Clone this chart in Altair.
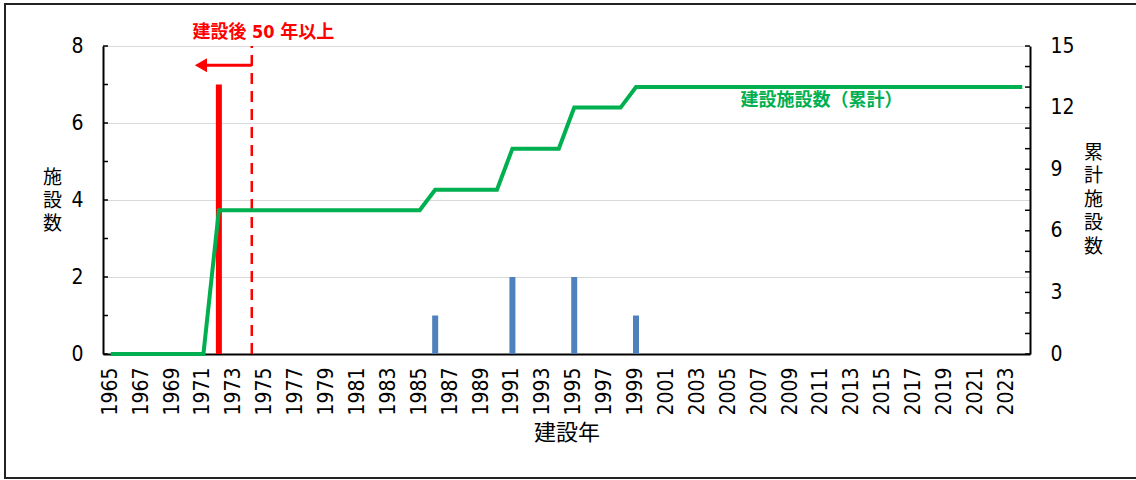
import altair as alt
import pandas as pd

# ---- data -------------------------------------------------------------
years = list(range(1965, 2025))
built_years = [1972, 1986, 1991, 1995, 1999]
built_counts = [7, 1, 2, 2, 1]
old_limit = 1974          # 建設後50年以上 (built in 1974 or earlier)
arrow_to = 1971           # arrow points back toward older years
arrow_level = 7.5         # height of the arrow on the left axis
note_level = 8.34         # annotation text just above the plot top
legend_year = 2011
legend_level = 12.3

left_ticks = list(range(0, 9))
left_labels = [0, 2, 4, 6, 8]
right_ticks = list(range(0, 16))
right_labels = [0, 3, 6, 9, 12, 15]
year_labels = list(range(1965, 2025, 2))

count_map = dict(zip(built_years, built_counts))
df = pd.DataFrame({"year": years, "count": [count_map.get(y, 0) for y in years]})

# ---- styling ----------------------------------------------------------
W, H = 927, 308
PAD_L, PAD_T = 103, 46
NUM_FONT = "Liberation Sans Narrow, DejaVu Sans Condensed, Noto Sans CJK JP, sans-serif"
JP_FONT = "Noto Sans CJK JP, sans-serif"
RED = "#FF0000"
BLUE = "#4F81BD"
GREEN = "#00B050"

x_scale = alt.Scale(domain=years, paddingInner=0, paddingOuter=0)
left_scale = alt.Scale(domain=[0, 8], nice=False, zero=True)
right_scale = alt.Scale(domain=[0, 15], nice=False, zero=True)

x_axis = alt.Axis(
    values=year_labels, labelAngle=-90, ticks=False, labelPadding=13,
    labelFont=NUM_FONT, labelFontSize=21, labelColor="black",
    domainColor="black", domainWidth=2, grid=False,
    title="建設年", titleFont=JP_FONT, titleFontSize=22, titleFontWeight="normal",
    titleColor="black", titleY=78, titleBaseline="middle",
)
left_axis = alt.Axis(
    values=left_labels, orient="left", ticks=False, labelPadding=20,
    labelFont=NUM_FONT, labelFontSize=21, labelColor="black",
    domainColor="black", domainWidth=2,
    grid=True, gridColor="#D9D9D9", gridWidth=1,
    title=["施", "設", "数"], titleAngle=0, titleFont=JP_FONT, titleFontSize=19,
    titleFontWeight="normal", titleColor="black", titleLineHeight=23,
    titleX=-51, titleY=122, titleBaseline="top", titleAlign="center",
)
right_axis = alt.Axis(
    values=right_labels, orient="right", ticks=False, labelPadding=20,
    labelFont=NUM_FONT, labelFontSize=21, labelColor="black",
    domainColor="black", domainWidth=2, grid=False,
    title=["累", "計", "施", "設", "数"], titleAngle=0, titleFont=JP_FONT,
    titleFontSize=19, titleFontWeight="normal", titleColor="black",
    titleLineHeight=23.5, titleX=63, titleY=97, titleBaseline="top", titleAlign="center",
)


def xo(field="year"):
    return alt.X(f"{field}:O", scale=x_scale, axis=x_axis)


def yl(field):
    return alt.Y(f"{field}:Q", scale=left_scale, axis=left_axis)


def yr(field):
    return alt.Y(f"{field}:Q", scale=right_scale, axis=right_axis)


# ---- left-axis group: yearly counts and the 50-year marker ------------------
bars = alt.Chart(df).mark_bar(size=6).encode(
    x=xo(),
    y=yl("count"),
    color=alt.condition(alt.datum.year <= old_limit, alt.value(RED), alt.value(BLUE)),
)

left_tick_marks = alt.Chart(pd.DataFrame({"v": left_ticks})).mark_rule(
    color="black", strokeWidth=1.5
).encode(x=alt.value(0), x2=alt.value(5), y=yl("v"))

marker_df = pd.DataFrame({"year": [old_limit], "lo": [0], "hi": [8]})
dashed = alt.Chart(marker_df).mark_rule(
    color=RED, strokeWidth=2.5, strokeDash=[11, 7], xOffset=2
).encode(x=xo(), y=yl("lo"), y2="hi:Q")

arrow_df = pd.DataFrame({"year": [old_limit], "to": [arrow_to], "lvl": [arrow_level]})
arrow_line = alt.Chart(arrow_df).mark_rule(
    color=RED, strokeWidth=3, xOffset=2, x2Offset=3
).encode(x=xo(), x2=alt.X2("to:O"), y=yl("lvl"))

arrow_head = alt.Chart(arrow_df).mark_point(
    shape="triangle-left", size=196, filled=True, opacity=1, color=RED, xOffset=-2.5
).encode(x=xo("to"), y=yl("lvl"))

note_df = pd.DataFrame({"year": [arrow_to], "lvl": [note_level], "txt": ["建設後 50 年以上"]})
note = alt.Chart(note_df).mark_text(
    color=RED, font=NUM_FONT, fontSize=18, fontWeight="bold",
    align="left", baseline="middle", xOffset=-11,
).encode(x=xo(), y=yl("lvl"), text="txt:N")

left = alt.layer(bars, left_tick_marks, dashed, arrow_line, arrow_head, note)

# ---- right-axis group: cumulative count ----------------------------------
line = alt.Chart(df).transform_window(
    cum="sum(count)", sort=[alt.SortField("year")]
).mark_line(color=GREEN, strokeWidth=4).encode(x=xo(), y=yr("cum"))

right_tick_marks = alt.Chart(pd.DataFrame({"v": right_ticks})).mark_rule(
    color="black", strokeWidth=1.5
).encode(x=alt.value(W - 5), x2=alt.value(W), y=yr("v"))

legend_df = pd.DataFrame({"year": [legend_year], "lvl": [legend_level], "txt": ["建設施設数（累計）"]})
legend_text = alt.Chart(legend_df).mark_text(
    color=GREEN, font=JP_FONT, fontSize=18, fontWeight="bold",
    align="center", baseline="middle",
).encode(x=xo(), y=yr("lvl"), text="txt:N")

# chart border around the whole figure (open on the right edge)
frame = alt.Chart(pd.DataFrame({"k": [0]})).mark_rect(
    fill="transparent", fillOpacity=0, stroke="#222222", strokeWidth=2
).encode(
    x=alt.value(5 - PAD_L), x2=alt.value(1145 - PAD_L),
    y=alt.value(4 - PAD_T), y2=alt.value(478 - PAD_T),
)

right = alt.layer(line, right_tick_marks, legend_text, frame)

chart = (
    alt.layer(left, right)
    .resolve_scale(y="independent")
    .properties(
        width=W, height=H,
        padding={"left": PAD_L, "top": PAD_T, "right": 1136 - PAD_L - W, "bottom": 480 - PAD_T - H},
        autosize=alt.AutoSizeParams(type="none"),
        background="white",
    )
    .configure_view(stroke=None)
)

chart.save("out.html", embed_options={"renderer": "svg", "actions": False})
